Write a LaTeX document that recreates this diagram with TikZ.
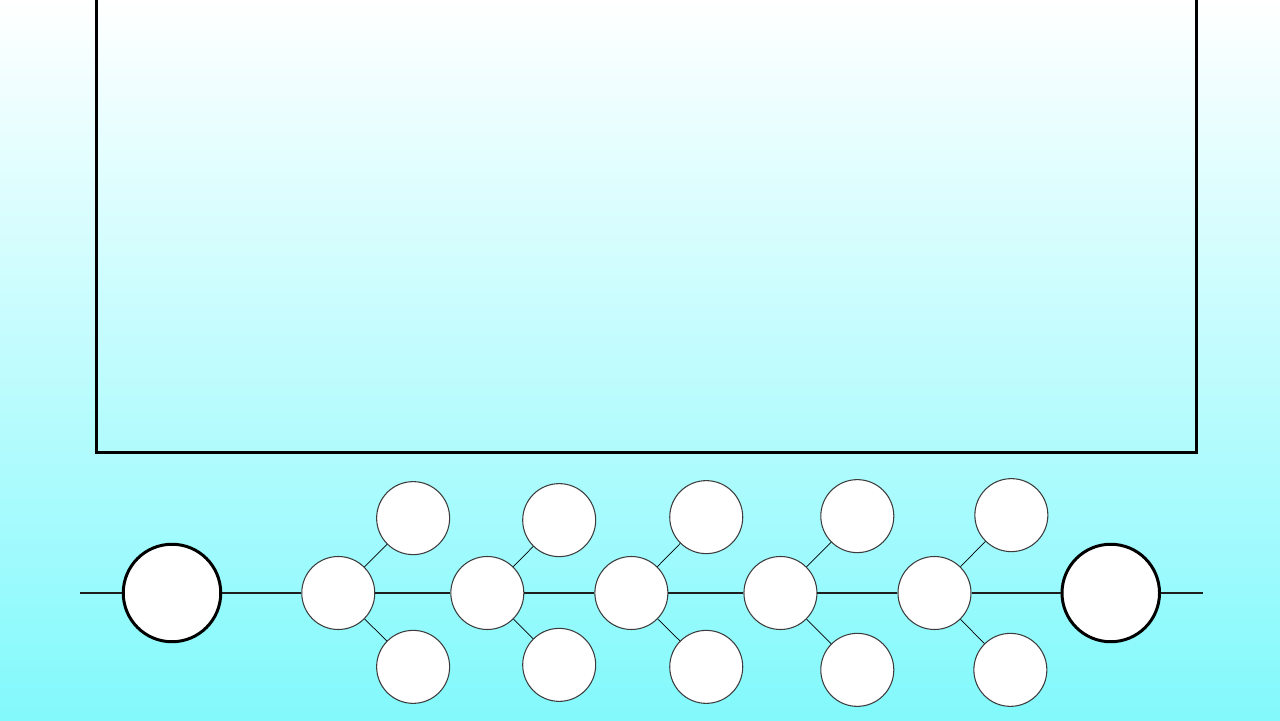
\documentclass[tikz,border=0pt]{standalone}
\usepackage{tikz}
\usepackage{xcolor}
\usetikzlibrary{calc}
\usetikzlibrary{positioning}

\definecolor{seaBottom}{RGB}{130,249,252}
\definecolor{spineGray}{RGB}{30,30,30}
\definecolor{rimGray}{RGB}{60,60,60}

\begin{document}
\begin{tikzpicture}
            % Set primary nodes
            \tikzset{
                screenNode/.style={
                        draw,
                        rectangle,
                        line width=1.35pt,
                        anchor=south west,
                        minimum width=22.0cm,
                        minimum height=9.4cm
                    }
            }
            \tikzset{
                hubNode/.style={
                        draw,
                        circle,
                        fill=white,
                        line width=1.7pt,
                        minimum size=1.95cm
                    }
            }
            \tikzset{
                jointNode/.style={
                        draw=rimGray,
                        circle,
                        fill=white,
                        line width=0.6pt,
                        minimum size=1.46cm
                    }
            }
            \tikzset{
                spine/.style={
                        draw=spineGray,
                        line width=1.4pt
                    }
            }
            \tikzset{
                twig/.style={
                        draw,
                        line width=0.4pt
                    }
            }
            % Background
            \shade[use as bounding box, top color=white, bottom color=seaBottom] (0,0) rectangle (25.6,14.4);
            \node[screenNode](screen) at (1.906,5.326){};
            % Placing nodes
            \node[hubNode](hubLeft) at (3.44,2.54){};
            \node[jointNode, right = 1.58cm of hubLeft](j1){};
            \node[jointNode, right = 1.50cm of j1](j2){};
            \node[jointNode, right = 1.40cm of j2](j3){};
            \node[jointNode, right = 1.50cm of j3](j4){};
            \node[jointNode, right = 1.60cm of j4](j5){};
            \node[hubNode, right = 1.78cm of j5](hubRight){};
            \coordinate[left = 0.83cm of hubLeft.west](spineStart);
            \coordinate[right = 0.83cm of hubRight.east](spineEnd);
            \node[jointNode, above right = 0.45cm and 0.45cm of j1](j1up){};
            \node[jointNode, below right = 0.43cm and 0.45cm of j1](j1down){};
            \node[jointNode, above right = 0.41cm and 0.39cm of j2](j2up){};
            \node[jointNode, below right = 0.39cm and 0.39cm of j2](j2down){};
            \node[jointNode, above right = 0.47cm and 0.45cm of j3](j3up){};
            \node[jointNode, below right = 0.43cm and 0.45cm of j3](j3down){};
            \node[jointNode, above right = 0.49cm and 0.49cm of j4](j4up){};
            \node[jointNode, below right = 0.49cm and 0.49cm of j4](j4down){};
            \node[jointNode, above right = 0.51cm and 0.49cm of j5](j5up){};
            \node[jointNode, below right = 0.49cm and 0.47cm of j5](j5down){};
            % Draw connections
            \draw[spine](spineStart) -- (hubLeft);
            \draw[spine](hubLeft) -- (j1);
            \draw[spine](j1) -- (j2);
            \draw[spine](j2) -- (j3);
            \draw[spine](j3) -- (j4);
            \draw[spine](j4) -- (j5);
            \draw[spine](j5) -- (hubRight);
            \draw[spine](hubRight) -- (spineEnd);
            \draw[twig](j1) -- (j1up);
            \draw[twig](j1) -- (j1down);
            \draw[twig](j2) -- (j2up);
            \draw[twig](j2) -- (j2down);
            \draw[twig](j3) -- (j3up);
            \draw[twig](j3) -- (j3down);
            \draw[twig](j4) -- (j4up);
            \draw[twig](j4) -- (j4down);
            \draw[twig](j5) -- (j5up);
            \draw[twig](j5) -- (j5down);
        \end{tikzpicture}
\end{document}
